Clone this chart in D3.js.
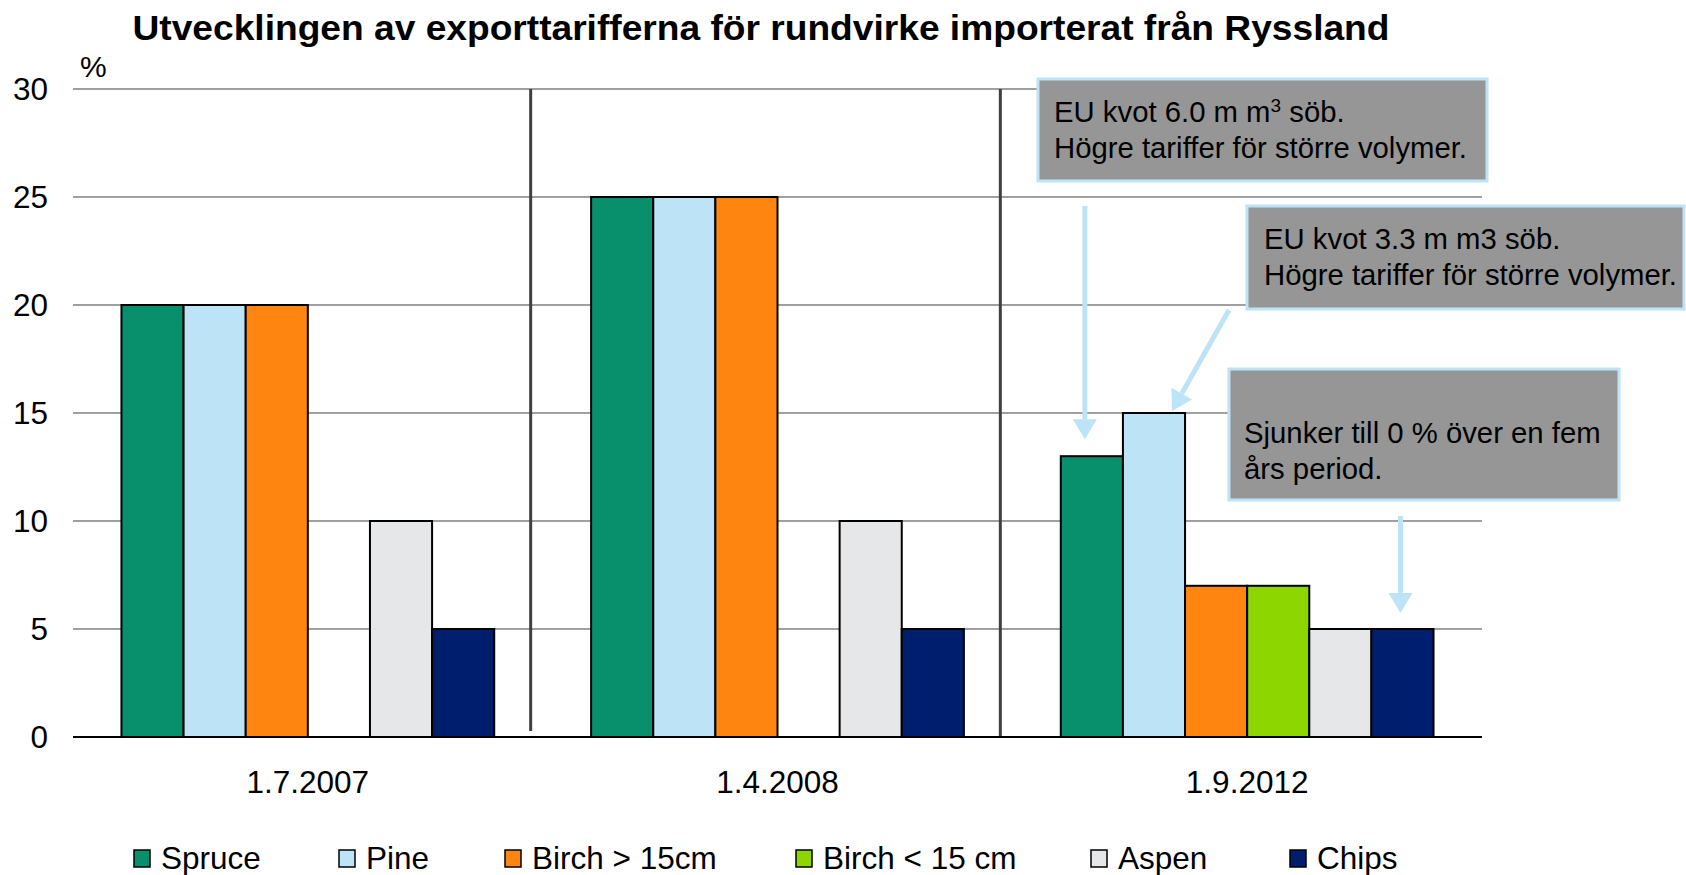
<!DOCTYPE html>
<html><head><meta charset="utf-8">
<script src="https://cdn.jsdelivr.net/npm/d3@7"></script>
<style>body{margin:0;background:#fff}svg{display:block}text{font-family:"Liberation Sans",Arial,sans-serif}</style>
</head><body>
<svg id="c" width="1686" height="875"></svg>
<script>
const categories = ["1.7.2007", "1.4.2008", "1.9.2012"];
const seriesNames = ["Spruce", "Pine", "Birch > 15cm", "Birch < 15 cm", "Aspen", "Chips"];
const seriesColors = ["#07906B", "#BDE4F6", "#FF8511", "#8ED600", "#E6E7E8", "#001E6E"];
const spruce = [20, 25, 13];
const pine = [20, 25, 15];
const birchLarge = [20, 25, 7];
const birchSmall = [null, null, 7];
const aspen = [10, 10, 5];
const chips = [5, 5, 5];
const yTicks = [0, 5, 10, 15, 20, 25, 30];
const seriesValues = [spruce, pine, birchLarge, birchSmall, aspen, chips];

const svg = d3.select("#c");
const mLeft = 73, mRight = 1482, mTop = 89, mBottom = 737;
const FF = "Liberation Sans, Arial, sans-serif";

const y = d3.scaleLinear().domain([0, 30]).range([mBottom, mTop]);
const x0 = d3.scaleBand().domain(categories).range([mLeft, mRight]).paddingInner(0).paddingOuter(0);
const x1 = d3.scaleBand().domain(seriesNames).range([0, x0.bandwidth()]).paddingInner(0).paddingOuter(0.78);

// title
svg.append("text").attr("x", 761).attr("y", 40).attr("text-anchor", "middle")
  .attr("font-size", 35).attr("font-weight", "bold").attr("fill", "#000")
  .attr("textLength", 1257).attr("lengthAdjust", "spacingAndGlyphs")
  .text("Utvecklingen av exporttarifferna för rundvirke importerat från Ryssland");

svg.append("text").attr("x", 80).attr("y", 77).attr("font-size", 30).text("%");

// gridlines
svg.append("g").selectAll("line").data(yTicks.filter(d => d > 0)).join("line")
  .attr("x1", mLeft).attr("x2", mRight).attr("y1", d => y(d)).attr("y2", d => y(d))
  .attr("stroke", "#A0A0A0").attr("stroke-width", 2);

// y axis labels
const ya = svg.append("g").attr("transform", `translate(${mLeft},0)`)
  .call(d3.axisLeft(y).tickValues(yTicks).tickSize(0).tickPadding(25));
ya.select(".domain").remove();
ya.selectAll("text").attr("font-size", 31.5).attr("font-family", FF).attr("fill", "#000");

// separators
[1, 2].forEach((i, k) => {
  svg.append("line").attr("x1", x0(categories[i]) - 12).attr("x2", x0(categories[i]) - 12)
    .attr("y1", mTop).attr("y2", k === 0 ? mBottom - 6 : mBottom)
    .attr("stroke", "#404040").attr("stroke-width", 3);
});

// bars
const data = [];
categories.forEach((c, ci) => seriesNames.forEach((s, si) => {
  const v = seriesValues[si][ci];
  if (v != null) data.push({c, s, si, v});
}));
svg.append("g").selectAll("rect").data(data).join("rect")
  .attr("x", d => x0(d.c) + x1(d.s)).attr("width", x1.bandwidth())
  .attr("y", d => y(d.v)).attr("height", d => y(0) - y(d.v))
  .attr("fill", d => seriesColors[d.si]).attr("stroke", "#000").attr("stroke-width", 2);

// x axis
svg.append("line").attr("x1", mLeft).attr("x2", mRight).attr("y1", mBottom).attr("y2", mBottom)
  .attr("stroke", "#000").attr("stroke-width", 2);
const xa = svg.append("g").attr("transform", `translate(0,${mBottom})`)
  .call(d3.axisBottom(x0).tickSize(0).tickPadding(34));
xa.select(".domain").remove();
xa.selectAll("text").attr("font-size", 31.5).attr("font-family", FF).attr("fill", "#000");

// arrows
const arrowColor = "#BDE4F6";
function arrow(xs, ys, xe, ye) {
  const ang = Math.atan2(ye - ys, xe - xs);
  const hl = 20, hw = 12;
  const bx = xe - hl * Math.cos(ang), by = ye - hl * Math.sin(ang);
  svg.append("line").attr("x1", xs).attr("y1", ys).attr("x2", bx).attr("y2", by)
    .attr("stroke", arrowColor).attr("stroke-width", 5);
  const px = -Math.sin(ang) * hw, py = Math.cos(ang) * hw;
  svg.append("path").attr("d", `M${xe},${ye}L${bx + px},${by + py}L${bx - px},${by - py}Z`).attr("fill", arrowColor);
}
const bc = (ci, si) => x0(categories[ci]) + x1(seriesNames[si]) + x1.bandwidth() / 2;
arrow(bc(2, 0) - 7, 206, bc(2, 0) - 7, y(spruce[2]) - 17);
arrow(1229, 310, bc(2, 1) + 18, y(pine[2]) - 2);
arrow(bc(2, 5) - 2, 516, bc(2, 5) - 2, y(chips[2]) - 16);

// annotation boxes
function box(x, yy, w, h, lines, tx, baselines) {
  svg.append("rect").attr("x", x).attr("y", yy).attr("width", w).attr("height", h)
    .attr("fill", "#969696").attr("stroke", "#BDE4F6").attr("stroke-width", 3);
  lines.forEach((l, i) => {
    const t = svg.append("text").attr("x", tx).attr("y", baselines[i]).attr("font-size", 29.3).attr("fill", "#000");
    if (Array.isArray(l)) {
      t.append("tspan").text(l[0]);
      t.append("tspan").attr("dy", -10).attr("font-size", 19).text(l[1]);
      t.append("tspan").attr("dy", 10).text(l[2]);
    } else t.text(l);
  });
}
box(1038, 79, 449, 102, [["EU kvot 6.0 m m", "3", " söb."], "Högre tariffer för större volymer."], 1054, [122, 158]);
box(1247, 206, 437, 103, ["EU kvot 3.3 m m3 söb.", "Högre tariffer för större volymer."], 1264, [249, 285]);
box(1229, 369, 390, 131, ["Sjunker till 0 % över en fem", "års period."], 1244, [443, 479]);

// legend
const legX = [134, 339, 505, 796, 1091, 1290];
const lg = svg.append("g");
seriesNames.forEach((s, i) => {
  lg.append("rect").attr("x", legX[i]).attr("y", 850).attr("width", 16).attr("height", 17)
    .attr("fill", seriesColors[i]).attr("stroke", "#000").attr("stroke-width", 1.5);
  lg.append("text").attr("x", legX[i] + 27).attr("y", 869).attr("font-size", 31.5).text(s);
});
</script>
</body></html>
